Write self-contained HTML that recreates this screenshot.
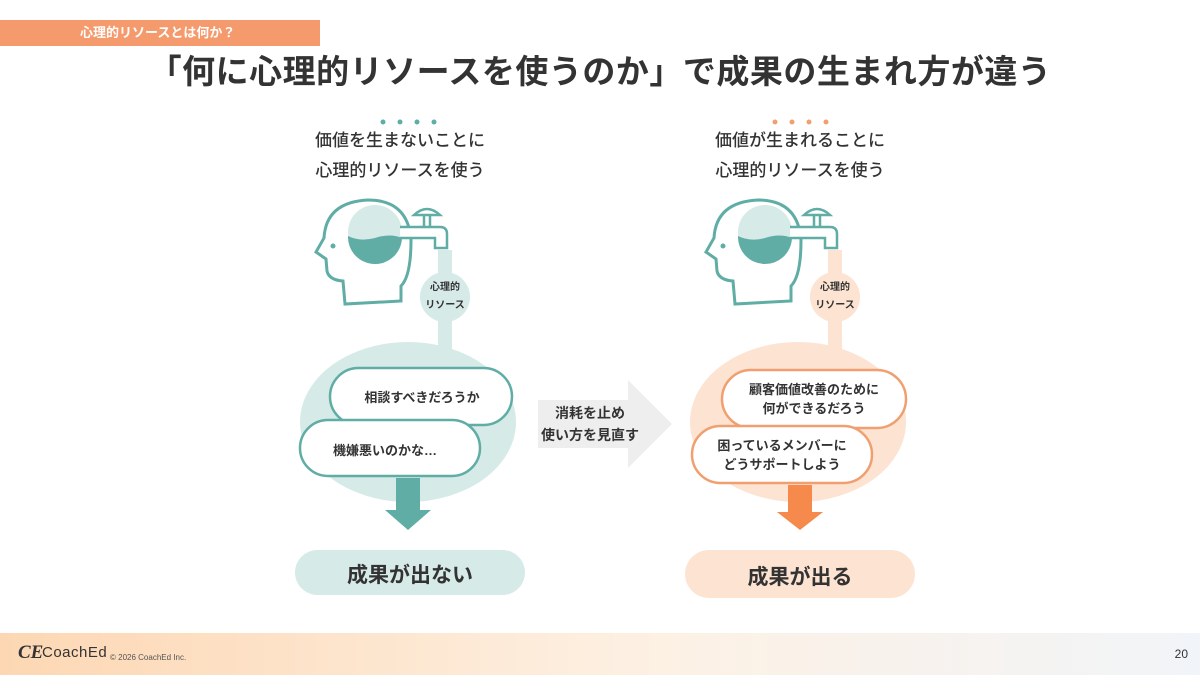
<!DOCTYPE html>
<html><head><meta charset="utf-8"><style>
body{margin:0;width:1200px;height:675px;overflow:hidden;background:#fff;font-family:"Liberation Sans","Noto Sans CJK JP",sans-serif;position:relative}
.tag{position:absolute;left:0;top:20px;width:320px;height:26px;background:#f59a6c;color:#fff;font-size:13px;line-height:26px;padding-left:80px;box-sizing:border-box;font-weight:bold}
.title{position:absolute;left:0;width:1200px;top:45px;text-align:center;font-size:33px;font-weight:bold;color:#333;letter-spacing:0.5px}
.foot{position:absolute;left:0;top:633px;width:1200px;height:42px;background:linear-gradient(90deg,#fdd7b3,#fdf1e4 55%,#f1f4f8)}
.t{position:absolute;text-align:center;color:#333}
</style></head><body>
<div class="tag">心理的リソースとは何か？</div>
<div class="title">「何に心理的リソースを使うのか」で成果の生まれ方が違う</div>
<svg width="1200" height="675" style="position:absolute;left:0;top:0">
<defs>
<g id="head">
<path d="M345,304 L343,281 Q329,280 327,271 L326,259 L316,252 L324,238 Q326,202 368,200 Q408,200 411,240 Q411,276 401,286 L401,301 Z" fill="#fff" stroke="#5fada5" stroke-width="3"/>
<circle cx="333" cy="246" r="2.5" fill="#5fada5"/>
<circle cx="375" cy="232" r="27" fill="#d6eae8"/>
<path d="M348,236 Q360,242 375,238 Q390,233 402,238 A27,27 0 0 1 348,236 Z" fill="#5fada5"/>
<path d="M400,227 L440,227 Q447,227 447,234 L447,248 L435,248 L435,238 L400,238" fill="#fff" stroke="#5fada5" stroke-width="2.5"/>
<path d="M424,227 L424,216 M430,227 L430,216" stroke="#5fada5" stroke-width="2.5"/>
<path d="M414,215 Q427,203 440,215 Z" fill="#fff" stroke="#5fada5" stroke-width="2.5"/>
</g>
</defs>
<rect x="438" y="250" width="14" height="110" fill="#d6eae8"/>
<circle cx="445" cy="297" r="25" fill="#d6eae8"/>
<ellipse cx="408" cy="422" rx="108" ry="80" fill="#d6eae8"/>
<use href="#head"/>
<rect x="330" y="368" width="182" height="57" rx="28.5" fill="#fff" stroke="#5fada5" stroke-width="2.5"/>
<rect x="300" y="420" width="180" height="56" rx="28" fill="#fff" stroke="#5fada5" stroke-width="2.5"/>
<path d="M396,478 L420,478 L420,510 L431,510 L408,530 L385,510 L396,510 Z" fill="#5fada5"/>
<rect x="295" y="550" width="230" height="45" rx="22.5" fill="#d6eae8"/>
<path d="M538,400 L628,400 L628,380 L672,424 L628,468 L628,448 L538,448 Z" fill="#eeeeee"/>
<rect x="828" y="250" width="14" height="110" fill="#fde3d2"/>
<circle cx="835" cy="297" r="25" fill="#fde3d2"/>
<ellipse cx="798" cy="422" rx="108" ry="80" fill="#fde3d2"/>
<use href="#head" x="390"/>
<rect x="722" y="370" width="184" height="58" rx="29" fill="#fff" stroke="#f0a070" stroke-width="2.5"/>
<rect x="692" y="426" width="180" height="57" rx="28.5" fill="#fff" stroke="#f0a070" stroke-width="2.5"/>
<path d="M788,485 L812,485 L812,512 L823,512 L800,530 L777,512 L788,512 Z" fill="#f58a4c"/>
<rect x="685" y="550" width="230" height="48" rx="24" fill="#fde3d2"/>
<g fill="#5fada5"><circle cx="383" cy="122" r="2.5"/><circle cx="400" cy="122" r="2.5"/><circle cx="417" cy="122" r="2.5"/><circle cx="434" cy="122" r="2.5"/></g>
<g fill="#f0a070"><circle cx="775" cy="122" r="2.5"/><circle cx="792" cy="122" r="2.5"/><circle cx="809" cy="122" r="2.5"/><circle cx="826" cy="122" r="2.5"/></g>
</svg>
<div class="t" style="left:290px;top:126px;width:220px;font-size:17px;line-height:30px;font-weight:500">価値を生まないことに<br>心理的リソースを使う</div>
<div class="t" style="left:690px;top:126px;width:220px;font-size:17px;line-height:30px;font-weight:500">価値が生まれることに<br>心理的リソースを使う</div>
<div class="t" style="left:415px;top:279px;width:60px;font-size:10px;line-height:18px;font-weight:bold">心理的<br>リソース</div>
<div class="t" style="left:805px;top:279px;width:60px;font-size:10px;line-height:18px;font-weight:bold">心理的<br>リソース</div>
<div class="t" style="left:332px;top:387px;width:180px;font-size:13px;font-weight:bold">相談すべきだろうか</div>
<div class="t" style="left:300px;top:440px;width:170px;font-size:13px;font-weight:bold">機嫌悪いのかな…</div>
<div class="t" style="left:722px;top:380px;width:184px;font-size:13px;line-height:19px;font-weight:bold">顧客価値改善のために<br>何ができるだろう</div>
<div class="t" style="left:692px;top:436px;width:180px;font-size:13px;line-height:19px;font-weight:bold">困っているメンバーに<br>どうサポートしよう</div>
<div class="t" style="left:535px;top:402px;width:110px;font-size:14px;line-height:22px;font-weight:bold">消耗を止め<br>使い方を見直す</div>
<div class="t" style="left:295px;top:559px;width:230px;font-size:21px;font-weight:bold">成果が出ない</div>
<div class="t" style="left:685px;top:561px;width:230px;font-size:21px;font-weight:bold">成果が出る</div>
<div class="foot">
<span style="position:absolute;left:18px;top:9px;font-size:19px;font-style:italic;font-family:'Liberation Serif',serif;font-weight:bold;color:#333">CE</span>
<span style="position:absolute;left:42px;top:11px;font-size:15px;color:#333;letter-spacing:0.5px">CoachEd</span>
<span style="position:absolute;left:110px;top:20px;font-size:8px;color:#555">© 2026 CoachEd Inc.</span>
<span style="position:absolute;right:12px;top:14px;font-size:12px;color:#333">20</span>
</div>
</body></html>
